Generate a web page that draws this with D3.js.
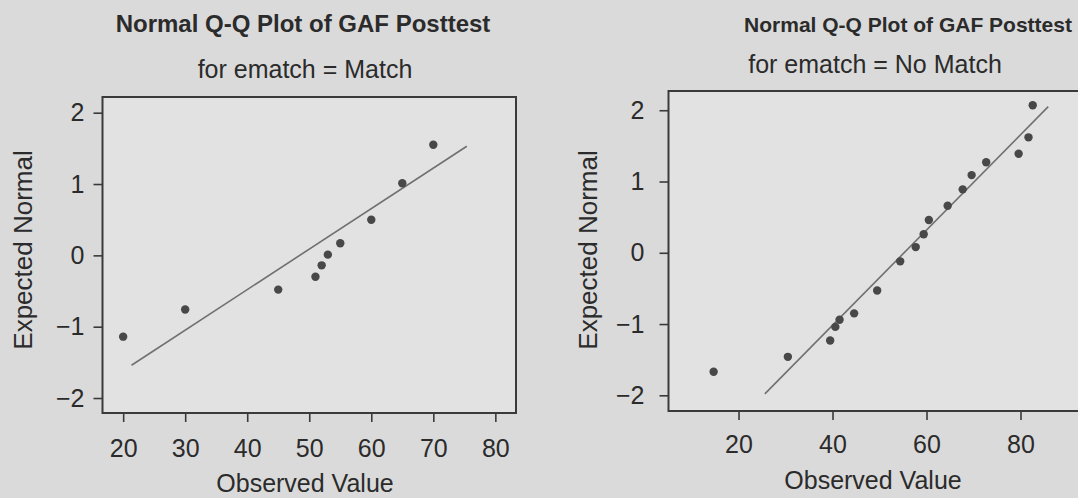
<!DOCTYPE html>
<html>
<head>
<meta charset="utf-8">
<script src="https://cdn.jsdelivr.net/npm/d3@7"></script>
<style>
	body { margin: 0; background: #dadada; }
	svg { display: block; }
	text { font-family: "Liberation Sans", Arial, Helvetica, sans-serif; fill: #2b2b2b; }
</style>
</head>
<body>
<div id="chart"></div>
<script>
// values
var yTicks = [-2, -1, 0, 1, 2]

var matchXTicks = [20, 30, 40, 50, 60, 70, 80]
var matchObserved = [20, 30, 45, 51, 52, 53, 55, 60, 65, 70]
var matchExpected = [-1.14, -0.76, -0.48, -0.30, -0.14, 0.01, 0.17, 0.50, 1.01, 1.55]
var matchLine = [[21.35, -1.54], [75.4, 1.53]]

var noMatchXTicks = [20, 40, 60, 80]
var noMatchObserved = [14.7, 30.5, 39.5, 40.6, 41.5, 44.6, 49.5, 54.4, 57.7, 59.4, 60.5, 64.5, 67.7, 69.6, 72.7, 79.6, 81.7, 82.6]
var noMatchExpected = [-1.67, -1.46, -1.23, -1.04, -0.94, -0.85, -0.53, -0.12, 0.08, 0.26, 0.46, 0.66, 0.89, 1.09, 1.27, 1.39, 1.62, 2.07]
var noMatchLine = [[25.6, -1.98], [85.9, 2.05]]

var W = 1078, H = 498

var svg = d3.select('#chart').append('svg')
	.attr('width', W)
	.attr('height', H)

svg.append('rect')
	.attr('width', W)
	.attr('height', H)
	.attr('fill', '#dadada')

function drawPanel(p) {
	var x = d3.scaleLinear().domain(p.xDomain).range([p.left, p.right])
	var y = d3.scaleLinear().domain(p.yDomain).range([p.bottom, p.top])
	var g = svg.append('g')

	// plot frame
	g.append('rect')
		.attr('x', p.left)
		.attr('y', p.top)
		.attr('width', p.right - p.left)
		.attr('height', p.bottom - p.top)
		.attr('fill', '#e2e2e2')
		.attr('stroke', '#3a3a3a')
		.attr('stroke-width', 2)

	var xAxis = g.append('g')
		.attr('transform', `translate(0, ${p.bottom})`)
		.call(d3.axisBottom(x).tickValues(p.xTicks).tickSize(9).tickPadding(p.xPad).tickFormat(d3.format('d')))
	var yAxis = g.append('g')
		.attr('transform', `translate(${p.left}, 0)`)
		.call(d3.axisLeft(y).tickValues(yTicks).tickSize(9).tickPadding(p.yPad).tickFormat(d3.format('d')))

	;[xAxis, yAxis].forEach(function (a) {
		a.select('.domain').remove()
		a.selectAll('line').attr('stroke', '#3a3a3a').attr('stroke-width', 1.6)
		a.selectAll('text')
			.attr('fill', '#2b2b2b')
			.style('font-size', '25px')
			.style('font-family', '"Liberation Sans", Arial, sans-serif')
	})

	// reference line
	g.append('line')
		.attr('x1', x(p.line[0][0])).attr('y1', y(p.line[0][1]))
		.attr('x2', x(p.line[1][0])).attr('y2', y(p.line[1][1]))
		.attr('stroke', '#707070')
		.attr('stroke-width', 1.6)

	g.selectAll('circle.pt')
		.data(p.observed)
		.enter().append('circle')
		.attr('class', 'pt')
		.attr('cx', (d) => x(d))
		.attr('cy', (d, i) => y(p.expected[i]))
		.attr('r', 4.2)
		.attr('fill', '#484848')

	g.append('text')
		.attr('x', p.titleX).attr('y', p.titleY)
		.attr('text-anchor', 'middle')
		.style('font-weight', 'bold')
		.style('font-size', p.titleSize + 'px')
		.text('Normal Q-Q Plot of GAF Posttest')

	g.append('text')
		.attr('x', p.subX).attr('y', p.subY)
		.attr('text-anchor', 'middle')
		.style('font-size', '25px')
		.text(p.subtitle)

	g.append('text')
		.attr('x', p.xLabelX).attr('y', p.xLabelY)
		.attr('text-anchor', 'middle')
		.style('font-size', '25px')
		.text('Observed Value')

	g.append('text')
		.attr('transform', `translate(${p.yLabelX}, ${p.yLabelY}) rotate(-90)`)
		.attr('text-anchor', 'middle')
		.style('font-size', '26px')
		.text('Expected Normal')
}

drawPanel({
	left: 102.5, right: 516, top: 97, bottom: 413,
	xDomain: [16.67, 83.33], yDomain: [-2.21, 2.22],
	xTicks: matchXTicks, xPad: 17, yPad: 9,
	observed: matchObserved, expected: matchExpected, line: matchLine,
	subtitle: 'for ematch = Match',
	titleX: 303, titleY: 32, titleSize: 24,
	subX: 305, subY: 78,
	xLabelX: 305, xLabelY: 492,
	yLabelX: 32, yLabelY: 250,
})

drawPanel({
	left: 668.5, right: 1091, top: 91, bottom: 411,
	xDomain: [5.1, 95], yDomain: [-2.22, 2.27],
	xTicks: noMatchXTicks, xPad: 15, yPad: 15,
	observed: noMatchObserved, expected: noMatchExpected, line: noMatchLine,
	subtitle: 'for ematch = No Match',
	titleX: 908, titleY: 32, titleSize: 21,
	subX: 875, subY: 73,
	xLabelX: 873, xLabelY: 489,
	yLabelX: 597, yLabelY: 250,
})
</script>
</body>
</html>
